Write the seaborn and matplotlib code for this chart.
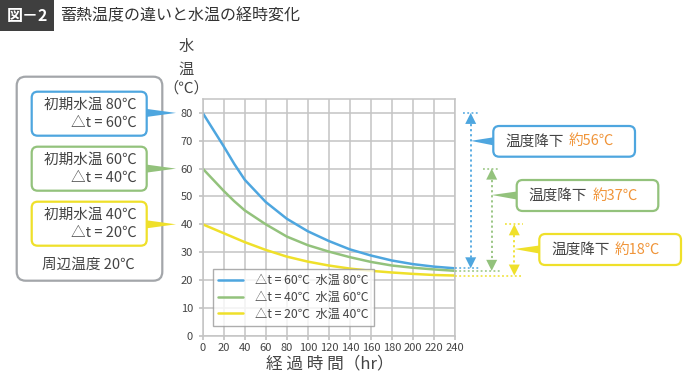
import numpy as np
import pandas as pd
import matplotlib
matplotlib.use("Agg")
import matplotlib.pyplot as plt
import matplotlib.transforms as mtransforms
from matplotlib.patches import FancyBboxPatch, Polygon, Rectangle
import seaborn as sns

# data
hours = [0, 10, 20, 30, 40, 60, 80, 100, 120, 140, 160, 180, 200, 220, 240]
temp_80 = [80, 74, 68, 61.7, 56, 48, 42, 37.5, 34, 31, 28.8, 27, 25.7, 24.8, 24.2]
temp_60 = [60, 56, 52, 48.3, 45, 40, 35.6, 32.5, 30.2, 28.2, 26.5, 25.2, 24.4, 23.8, 23.3]
temp_40 = [40, 38.4, 36.8, 35.2, 33.6, 30.8, 28.4, 26.6, 25.2, 24.1, 23.3, 22.7, 22.2, 21.8, 21.6]
series_labels = ["△t = 60℃  水温 80℃", "△t = 40℃  水温 60℃", "△t = 20℃  水温 40℃"]
initial_temps = [80, 60, 40]
delta_t = [60, 40, 20]
drops = ["約56℃", "約37℃", "約18℃"]
ambient = 20

colors = ["#4ea6df", "#93c27c", "#efe02a"]
orange = "#f0953a"
text_c = "#444444"
grid_c = "#c4c4c4"
box_c = "#a3a6aa"
FONTS = ["Noto Sans CJK JP", "DejaVu Sans"]

sns.set_theme(style="white")
plt.rcParams["font.family"] = FONTS

W, H = 698, 373
fig = plt.figure(figsize=(W / 100, H / 100), dpi=100)
# pixel coords measured from the top-left corner
pix = mtransforms.Affine2D().scale(1 / W, -1 / H).translate(0, 1) + fig.transFigure

ax_l, ax_r, ax_t, ax_b = 202.7, 455, 99, 335.7
ax = fig.add_axes([ax_l / W, (H - ax_b) / H, (ax_r - ax_l) / W, (ax_b - ax_t) / H])

df = pd.DataFrame({
    "hours": hours * 3,
    "temp": temp_80 + temp_60 + temp_40,
    "series": [series_labels[0]] * len(hours) + [series_labels[1]] * len(hours)
              + [series_labels[2]] * len(hours),
})
sns.lineplot(data=df, x="hours", y="temp", hue="series", palette=colors,
             hue_order=series_labels, linewidth=1.8, ax=ax, legend=True)

ax.set_xlim(0, 240)
ax.set_ylim(0, 85)
ax.set_xticks(range(0, 241, 20))
ax.set_yticks(range(0, 81, 10))
ax.grid(True, color=grid_c, linewidth=1.1)
for s in ax.spines.values():
    s.set_color(grid_c)
    s.set_linewidth(1.1)
ax.tick_params(axis="both", which="both", length=3, color=grid_c, labelsize=8,
               labelcolor=text_c, direction="out", bottom=True, left=True)
ax.tick_params(axis="y", pad=4)
ax.tick_params(axis="x", pad=2.5)
ax.set_xlabel("")
ax.set_ylabel("")

handles, labels = ax.get_legend_handles_labels()
leg = ax.legend(handles, labels, loc="lower left", bbox_to_anchor=(0.015, 0.015),
                fontsize=8.8, frameon=True, fancybox=False, handlelength=2.0,
                labelspacing=0.3, borderpad=0.45, handletextpad=1.0)
leg.get_frame().set_edgecolor("#999999")
leg.get_frame().set_linewidth(1)
for t in leg.get_texts():
    t.set_color(text_c)

# axis titles
fig.text(186, 46, "水", transform=pix, ha="center", va="center", fontsize=11, color=text_c)
fig.text(186, 69, "温", transform=pix, ha="center", va="center", fontsize=11, color=text_c)
fig.text(186, 88, "（℃）", transform=pix, ha="center", va="center", fontsize=11, color=text_c)
fig.text(330, 364, "経 過 時 間（hr）", transform=pix, ha="center", va="center",
         fontsize=12, color=text_c)

# title
fig.patches.append(Rectangle((0, 0), 54, 31, transform=pix, facecolor="#3f3f3f",
                             edgecolor="none"))
fig.text(27, 15.5, "図－2", transform=pix, ha="center", va="center", fontsize=11.5,
         color="white", fontweight="bold")
fig.text(60, 15.5, "蓄熱温度の違いと水温の経時変化", transform=pix, ha="left", va="center",
         fontsize=11.5, color="#333333")


def rbox(x0, y0, x1, y1, color, lw=1.6, r=7):
    fig.patches.append(FancyBboxPatch((x0, y0), x1 - x0, y1 - y0,
                                      boxstyle=f"round,pad=0,rounding_size={r}",
                                      transform=pix, facecolor="white",
                                      edgecolor=color, linewidth=lw))


def pointer(base_x, base_y, tip_x, tip_y, color, half=4):
    fig.patches.append(Polygon([(base_x, base_y - half), (base_x, base_y + half),
                                (tip_x, tip_y)], closed=True, transform=pix,
                               facecolor=color, edgecolor="none"))


def ypix(v):
    return ax_b - v * (ax_b - ax_t) / 85


# left legend-like boxes
rbox(16.7, 76.7, 162.3, 280.7, box_c, lw=1.6, r=9)
box_tops = [91.7, 146.7, 201.7]
for top, t0, dt, c in zip(box_tops, initial_temps, delta_t, colors):
    rbox(31.7, top, 146.7, top + 44, c, lw=1.6, r=6)
    pointer(146.7, ypix(t0), 176, ypix(t0), c)
    fig.text(137, top + 13, f"初期水温 {t0}℃", transform=pix, ha="right", va="center",
             fontsize=10.5, color=text_c)
    fig.text(137, top + 31, f"△t = {dt}℃", transform=pix, ha="right", va="center",
             fontsize=10.5, color=text_c)
fig.text(88, 265, f"周辺温度 {ambient}℃", transform=pix, ha="center", va="center",
         fontsize=10.5, color=text_c)

# drop arrows to the right of the plot
curves = [temp_80, temp_60, temp_40]
arrow_x = [470.7, 491.7, 514.3]
top_ext = [(463, 480), (483, 500), (505, 523)]
bot_end = [480, 500, 523]
boxes = [(493.3, 126, 635, 156.7), (516.7, 180, 658.3, 211), (539.3, 234, 681, 265)]
fig.canvas.draw()
renderer = fig.canvas.get_renderer()
for curve, xa, (tx0, tx1), bx, (b0, b1, b2, b3), c, drop in zip(
        curves, arrow_x, top_ext, bot_end, boxes, colors, drops):
    y_top, y_bot = ypix(curve[0]), ypix(curve[-1])
    fig.lines.append(plt.Line2D([xa, xa], [y_top + 6, y_bot - 6], transform=pix,
                                color=c, linestyle=(0, (1.2, 1.6)), linewidth=1.3))
    fig.lines.append(plt.Line2D([tx0, tx1], [y_top, y_top], transform=pix,
                                color=c, linestyle=(0, (1.2, 1.6)), linewidth=1.1))
    fig.lines.append(plt.Line2D([ax_r, bx], [y_bot, y_bot], transform=pix,
                                color=c, linestyle=(0, (1.2, 1.6)), linewidth=1.1))
    fig.patches.append(Polygon([(xa, y_top), (xa - 5.5, y_top + 11), (xa + 5.5, y_top + 11)],
                               transform=pix, facecolor=c, edgecolor="none"))
    fig.patches.append(Polygon([(xa, y_bot), (xa - 5.5, y_bot - 11), (xa + 5.5, y_bot - 11)],
                               transform=pix, facecolor=c, edgecolor="none"))
    rbox(b0, b1, b2, b3, c, lw=1.6, r=6)
    cy = (b1 + b3) / 2
    pointer(b0, cy, xa, cy - 0.5, c)
    t1 = fig.text(b0 + 12, cy, "温度降下", transform=pix, ha="left", va="center",
                  fontsize=10.5, color=text_c)
    width = t1.get_window_extent(renderer).width
    fig.text(b0 + 12 + width + 5, cy, drop, transform=pix, ha="left", va="center",
             fontsize=10.5, color=orange)

fig.savefig("out.png", dpi=100)
